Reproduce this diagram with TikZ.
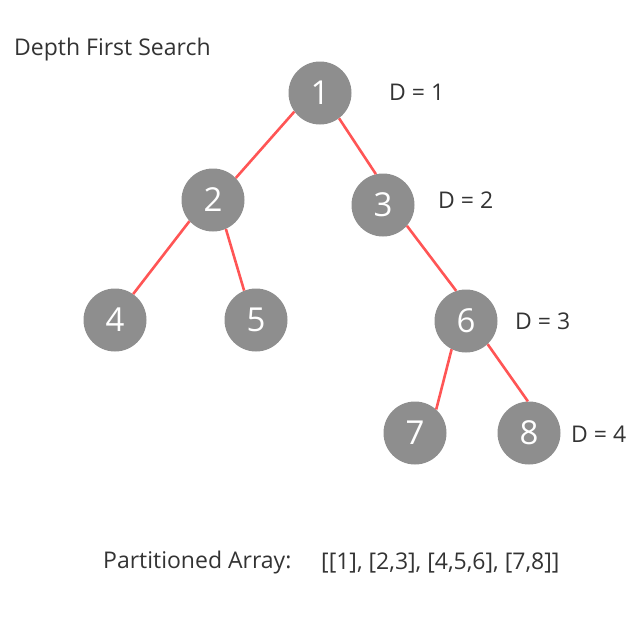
\documentclass[tikz,border=0pt]{standalone}
\usepackage{fontspec}
\setmainfont{Open Sans}
\definecolor{ink}{HTML}{333333}
\definecolor{vgray}{HTML}{8E8E8E}
\definecolor{edgered}{HTML}{FF5555}
\newcommand{\labfontsize}{\fontsize{23}{27}\selectfont}
\newcommand{\vertfontsize}{\fontsize{33}{37}\selectfont}
\tikzset{
  every picture/.style = {line join=round},
  vert/.style          = {circle, fill=vgray, text=white, minimum size=63pt,
                          inner sep=0pt, font=\vertfontsize},
  link/.style          = {line width=2.6pt, edgered},
  lab/.style           = {text=ink, font=\labfontsize, inner sep=0pt},
}

\begin{document}
\begin{tikzpicture}[x=1pt, y=-1pt]
  \useasboundingbox (0,0) rectangle (640,640);

  % ---------- the tree --------------------------------------------------------
  \node[vert] (n1) at (320,93)  {1};
  \node[vert] (n2) at (213,200) {2};
  \node[vert] (n3) at (383,205) {3};
  \node[vert] (n4) at (115,320) {4};
  \node[vert] (n5) at (256,320) {5};
  \node[vert] (n6) at (466,321) {6};
  \node[vert] (n7) at (415,433) {7};
  \node[vert] (n8) at (529,433) {8};

  % edges leave the rims a little off the centre line, as drawn by hand
  \draw[link] (n1.216) -- (n2.44);
  \draw[link] (n1.307) -- (n3.103);
  \draw[link] (n2.222) -- (n4.55);
  \draw[link] (n2.294) -- (n5.112);
  \draw[link] (n3.319) -- (n6.108);
  \draw[link] (n6.243) -- (n7.48);
  \draw[link] (n6.313) -- (n8.92);

  % ---------- depth marks -----------------------------------------------------
  \node[lab, anchor=west] (d1) at (389,92)  {D = 1};
  \node[lab, anchor=west] (d2) at (438,200) {D = 2};
  \node[lab, anchor=west] (d3) at (515,321) {D = 3};
  \node[lab, anchor=west] (d4) at (571,434) {D = 4};

  % ---------- title and result ------------------------------------------------
  \node[lab, anchor=west] (title) at (14,50)  {Depth First Search};
  \node[lab, anchor=west] (parts) at (103,563) {Partitioned Array:};
  \node[lab, anchor=west] (arr)   at (321,563) {[[1], [2,3], [4,5,6], [7,8]]};
\end{tikzpicture}
\end{document}
